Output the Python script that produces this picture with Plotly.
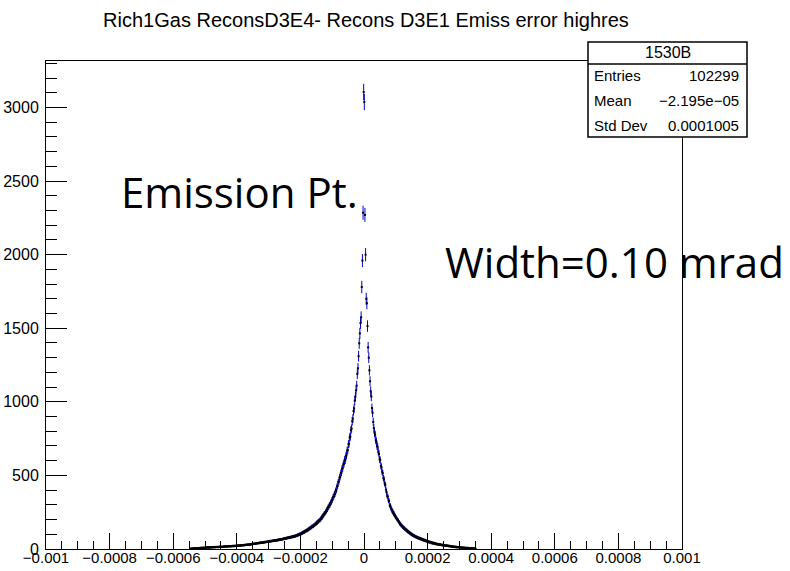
import math
import plotly.graph_objects as go

# ---------------- data ----------------
title_text = "Rich1Gas ReconsD3E4- Recons D3E1 Emiss error highres"
hist_name = "1530B"
stat_labels = ["Entries", "Mean", "Std Dev"]
stat_values = ["102299", "\u22122.195e\u221205", "0.0001005"]

bin_width = 2e-6
first_edge = -0.000548          # low edge of first non-empty bin

counts = [
    # left tail (far left -> just below zero)
    1, 2, 3, 2, 4, 3, 5, 3, 4, 6, 4, 5, 7,
    5, 7, 6, 8, 6, 9, 7, 8, 10, 7,
    9, 8, 11, 9, 10, 12, 9, 11, 10, 12,
    10, 13, 11, 12, 14, 11, 13, 12, 15, 13,
    14, 12, 15, 14, 17, 13, 16, 15, 14, 17,
    15, 18, 16, 17, 19, 16, 18, 17, 20, 18,
    19, 17, 20, 21, 18, 22, 20, 19, 23, 21,
    20, 23, 24, 21, 25, 23, 22, 26, 24, 25,
    27, 24, 26, 29, 26, 28, 30, 27, 31, 29,
    31, 29, 33, 31, 35, 32, 36, 34, 37, 35,
    38, 36, 40, 38, 41, 39, 43, 40, 44, 42,
    45, 42, 46, 44, 48, 45, 49, 47, 50, 48,
    52, 49, 53, 51, 55, 52, 56, 54, 58, 55,
    59, 56, 60, 58, 62, 59, 64, 61, 65, 62,
    67, 64, 68, 66, 71, 68, 73, 70, 75, 72,
    77, 74, 79, 76, 81, 78, 83, 80, 86, 82,
    87, 84, 90, 87, 93, 90, 96, 93, 100, 98,
    104, 101, 108, 105, 113, 110, 118, 114, 123, 120,
    128, 124, 133, 130, 140, 136, 146, 142, 152, 150,
    158, 154, 165, 162, 172, 169, 180, 176, 188, 186,
    196, 192, 206, 203, 218, 214, 230, 226, 242, 240,
    253, 252, 269, 268, 285, 283, 301, 298, 316, 316,
    334, 334, 355, 354, 375, 373, 398, 398, 425, 428,
    455, 458, 486, 488, 516, 518, 546, 548, 576, 578,
    606, 602, 632, 636, 668, 672, 712, 716, 758, 764,
    808, 818, 868, 886, 938, 955, 1008, 1036, 1078, 1110,
    1190, 1228, 1310, 1398, 1465, 1535, 1575, 1780, 1960, 2285, 3105,
    # right side (zero -> right tail)
    3037, 2270, 2000, 1700, 1670, 1515, 1370, 1300, 1214, 1140,
    1072, 1036, 958, 926, 864, 822, 790, 776, 740, 730,
    700, 694, 660, 646, 610, 604, 565, 557, 525, 515,
    482, 474, 446, 436, 404, 386, 360, 356, 330, 325,
    296, 294, 274, 272, 254, 254, 238, 240, 224, 224,
    211, 209, 197, 197, 184, 183, 169, 171, 159, 160,
    149, 151, 141, 143, 133, 135, 125, 128, 117, 120,
    111, 113, 104, 107, 97, 101, 92, 95, 87, 91,
    82, 86, 78, 82, 74, 78, 70, 75, 67, 72,
    64, 68, 60, 65, 57, 62, 54, 58, 51, 55,
    48, 52, 45, 49, 42, 47, 39, 44, 37, 42,
    35, 40, 33, 37, 31, 35, 30, 33, 28, 32,
    27, 30, 25, 29, 24, 27, 23, 26, 21, 25,
    20, 24, 19, 22, 18, 21, 16, 20, 15, 18,
    14, 17, 13, 16, 12, 15, 11, 14, 11, 13,
    10, 12, 9, 11, 8, 10, 8, 10, 7, 9,
    7, 8, 6, 8, 5, 7, 5, 6, 4, 6, 3, 5, 3, 4, 2, 2,
]

x_ticks = [-0.001, -0.0008, -0.0006, -0.0004, -0.0002, 0, 0.0002, 0.0004, 0.0006, 0.0008, 0.001]
x_tick_labels = ["\u22120.001", "\u22120.0008", "\u22120.0006", "\u22120.0004", "\u22120.0002", "0",
                 "0.0002", "0.0004", "0.0006", "0.0008", "0.001"]
y_ticks = [0, 500, 1000, 1500, 2000, 2500, 3000]

# ---------------- figure ----------------
W, H = 790, 571
L, R, T, B = 46, 108, 61, 22
pw, ph = W - L - R, H - T - B

def px(x):
    return (x - L) / pw

def py(y):
    return (H - B - y) / ph

centers = [first_edge + (i + 0.5) * bin_width for i in range(len(counts))]
errs = [math.sqrt(c) for c in counts]

sans = "Liberation Sans, Arial"

fig = go.Figure()
fig.add_trace(go.Scatter(
    x=centers, y=counts, mode="markers",
    marker=dict(symbol="square", size=2, color="black", line=dict(width=0)),
    error_y=dict(type="data", array=errs, visible=True, color="#0000d0", thickness=1, width=0),
    showlegend=False, hoverinfo="skip",
))

fig.update_layout(
    width=W, height=H,
    margin=dict(l=L, r=R, t=T, b=B, pad=0, autoexpand=False),
    paper_bgcolor="white", plot_bgcolor="white",
    title=dict(text=title_text, x=366 / W, xanchor="center", xref="container",
               y=1 - 20 / H, yanchor="middle", yref="container",
               font=dict(family=sans, size=20, color="black")),
    xaxis=dict(range=[-0.001, 0.001], showgrid=False, zeroline=False, automargin=False,
               showline=True, linecolor="black", linewidth=1, mirror=True,
               ticks="inside", ticklen=16, tickcolor="black", tickwidth=1,
               tickvals=x_ticks, ticktext=x_tick_labels, ticklabelstandoff=-5,
               minor=dict(ticks="inside", ticklen=8, dtick=0.00005, tickcolor="black", showgrid=False),
               tickfont=dict(family=sans, size=15, color="black")),
    yaxis=dict(range=[0, 3316], showgrid=False, zeroline=False, automargin=False,
               showline=True, linecolor="black", linewidth=1, mirror=True,
               ticks="inside", ticklen=21, tickcolor="black", tickwidth=1,
               tickvals=y_ticks, ticklabelstandoff=3,
               minor=dict(ticks="inside", ticklen=11, dtick=100, tickcolor="black", showgrid=False),
               tickfont=dict(family=sans, size=16, color="black")),
)

# stats box
bx0, bx1, by0, by1, bsep = 588, 747, 42, 137, 64
fig.add_shape(type="rect", xref="paper", yref="paper",
              x0=px(bx0), x1=px(bx1), y0=py(by1), y1=py(by0),
              line=dict(color="black", width=1.5), fillcolor="white", layer="above")
fig.add_shape(type="line", xref="paper", yref="paper",
              x0=px(bx0), x1=px(bx1), y0=py(bsep), y1=py(bsep),
              line=dict(color="black", width=1.5), layer="above")
fig.add_annotation(xref="paper", yref="paper", x=px((bx0 + bx1) / 2), y=py(53),
                   text=hist_name, showarrow=False, xanchor="center", yanchor="middle",
                   font=dict(family=sans, size=16, color="black"))
for i, (lab, val) in enumerate(zip(stat_labels, stat_values)):
    yy = 76 + i * 24.5
    fig.add_annotation(xref="paper", yref="paper", x=px(592), y=py(yy), text=lab,
                       showarrow=False, xanchor="left", yanchor="middle",
                       font=dict(family=sans, size=15, color="black"))
    fig.add_annotation(xref="paper", yref="paper", x=px(741), y=py(yy), text=val,
                       showarrow=False, xanchor="right", yanchor="middle",
                       font=dict(family=sans, size=15, color="black"))

# overlay labels
big = "Open Sans, Noto Sans, Liberation Sans"
fig.add_annotation(xref="paper", yref="paper", x=px(119), y=py(191), text="Emission Pt.",
                   showarrow=False, xanchor="left", yanchor="middle",
                   font=dict(family=big, size=42, color="black"))
fig.add_annotation(xref="paper", yref="paper", x=px(443), y=py(261), text="Width=0.10 mrad",
                   showarrow=False, xanchor="left", yanchor="middle",
                   font=dict(family=big, size=42, color="black"))

fig.write_html("out.html")
